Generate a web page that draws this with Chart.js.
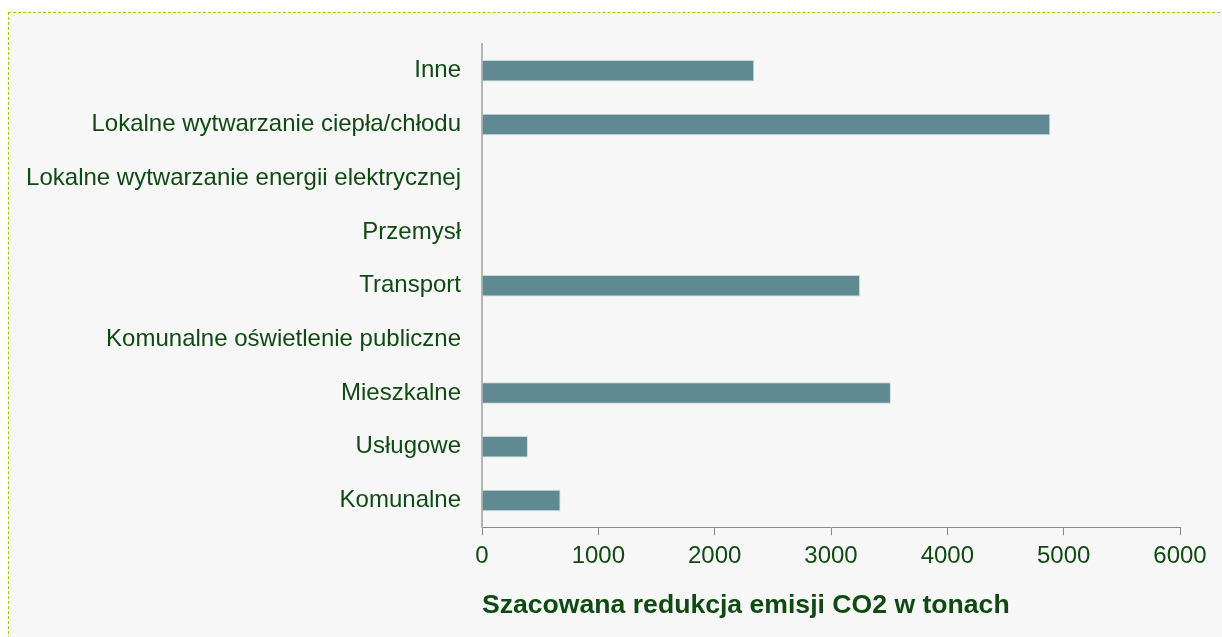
<!DOCTYPE html>
<html lang="pl">
<head>
    <meta charset="UTF-8">
    <title>Szacowana redukcja emisji CO2</title>
    <script src="https://cdn.jsdelivr.net/npm/chart.js"></script>
    <style>
        body { margin: 0; background: #ffffff; }
        .frame {
            position: absolute; left: 8px; top: 12px; width: 1240px; height: 660px;
            border: 1px dashed #9ccc10; background: #f7f7f7;
        }
        #chart { position: absolute; left: 0; top: 0; }
    </style>
</head>
<body>
    <div class="frame"></div>
    <canvas id="chart" width="1222" height="637"></canvas>

    <script>
        // categories, top to bottom
        const sectors = [
            'Inne',
            'Lokalne wytwarzanie ciepła/chłodu',
            'Lokalne wytwarzanie energii elektrycznej',
            'Przemysł',
            'Transport',
            'Komunalne oświetlenie publiczne',
            'Mieszkalne',
            'Usługowe',
            'Komunalne'
        ];
        // estimated CO2 reduction in tonnes
        const reduction = [2340, 4885, 0, 0, 3250, 0, 3515, 395, 675];
        const xTicks = [0, 1000, 2000, 3000, 4000, 5000, 6000];

        const textColor = '#0f4a12';
        const fontFamily = 'Liberation Sans, Arial, sans-serif';

        new Chart(document.getElementById('chart'), {
            type: 'bar',
            data: {
                labels: sectors,
                datasets: [{
                    data: reduction,
                    backgroundColor: '#5f8a91',
                    borderColor: '#c9dadc',
                    borderWidth: { top: 1, right: 1, bottom: 1, left: 0 },
                    categoryPercentage: 0.8,
                    barPercentage: 0.5
                }]
            },
            options: {
                indexAxis: 'y',
                responsive: false,
                animation: false,
                layout: { padding: { top: 44, right: 42, bottom: 15, left: 0 } },
                plugins: { legend: { display: false }, tooltip: { enabled: false } },
                scales: {
                    x: {
                        min: 0, max: 6000,
                        afterBuildTicks: s => { s.ticks = xTicks.map(v => ({ value: v })); },
                        grid: { drawOnChartArea: false, drawTicks: true, tickLength: 8, color: '#8a8a8a' },
                        border: { color: '#8a8a8a', width: 1 },
                        ticks: {
                            color: textColor, padding: 7,
                            callback: v => String(v),
                            font: { family: fontFamily, size: 24 }
                        },
                        title: {
                            display: true, align: 'start',
                            text: 'Szacowana redukcja emisji CO2 w tonach',
                            color: textColor,
                            padding: { top: 12, bottom: 0 },
                            font: { family: fontFamily, size: 26.6, weight: 'bold' }
                        }
                    },
                    y: {
                        afterFit: s => { s.width = 482; },
                        grid: { display: false },
                        border: { display: true, color: '#b5b5b5', width: 2 },
                        ticks: {
                            color: textColor, padding: 13,
                            font: { family: fontFamily, size: 24 }
                        }
                    }
                }
            }
        });
    </script>
</body>
</html>
